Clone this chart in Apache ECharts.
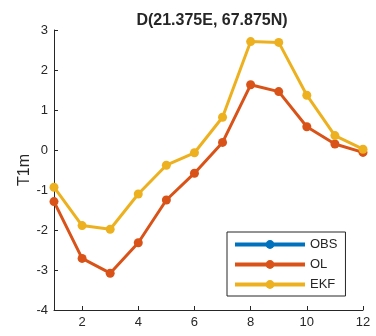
<!DOCTYPE html>
<html><head><meta charset="utf-8">
<script src="https://cdn.jsdelivr.net/npm/echarts@6/dist/echarts.min.js"></script>
<style>html,body{margin:0;padding:0;background:#fff}#c{width:376px;height:336px}</style>
</head><body><div id="c"></div>
<script>
const months = [1,2,3,4,5,6,7,8,9,10,11,12];
const obs = [];
const ol  = [-1.29,-2.71,-3.08,-2.32,-1.25,-0.58,0.19,1.63,1.46,0.58,0.15,-0.06];
const ekf = [-0.93,-1.89,-1.98,-1.10,-0.38,-0.07,0.82,2.71,2.69,1.37,0.36,0.02];
const xTicks = [2,4,6,8,10,12];
const chart = echarts.init(document.getElementById('c'));
const font = 'Liberation Sans, Arial, sans-serif';
function mk(name, vals, color){
  return {name, type:'line', data: vals.map((v,i)=>[months[i],v]), color,
    lineStyle:{width:3,color}, itemStyle:{color}, symbol:'circle', symbolSize:9, showSymbol:true, z: name==='EKF'?3:2};
}
chart.setOption({
  animation:false,
  title:{text:'D(21.375E, 67.875N)', left:207, top:8, textAlign:'center',
    textStyle:{fontFamily:font,fontSize:16,fontWeight:'bold',color:'#262626'}},
  grid:{left:54,right:13,top:30,bottom:26},
  legend:{orient:'vertical', left:227, top:232, itemWidth:70, itemHeight:11, itemGap:7,
    padding:[6,8,5,6], borderColor:'#262626', borderWidth:1, backgroundColor:'#fff',
    lineStyle:{width:4},
    textStyle:{fontFamily:font,fontSize:13,color:'#262626'},
    data:['OBS','OL','EKF']},
  xAxis:{type:'value', min:1, max:12,
    axisLine:{show:true,onZero:false,lineStyle:{color:'#262626',width:1}},
    axisTick:{show:true,inside:true,length:4,customValues:xTicks,lineStyle:{color:'#262626'}},
    axisLabel:{customValues:xTicks,fontFamily:font,fontSize:13,color:'#262626',margin:6},
    splitLine:{show:false}},
  yAxis:{type:'value', min:-4, max:3, interval:1, name:'T1m', nameLocation:'middle', nameGap:21,
    nameMoveOverlap:false,
    nameTextStyle:{fontFamily:font,fontSize:16,color:'#262626'},
    axisLine:{show:true,onZero:false,lineStyle:{color:'#262626',width:1}},
    axisTick:{show:true,inside:true,length:4,lineStyle:{color:'#262626'}},
    axisLabel:{fontFamily:font,fontSize:13,color:'#262626',margin:6},
    splitLine:{show:false}},
  series:[mk('OBS',obs,'#0072BD'), mk('OL',ol,'#D95319'), mk('EKF',ekf,'#EDB120')]
});
</script></body></html>
